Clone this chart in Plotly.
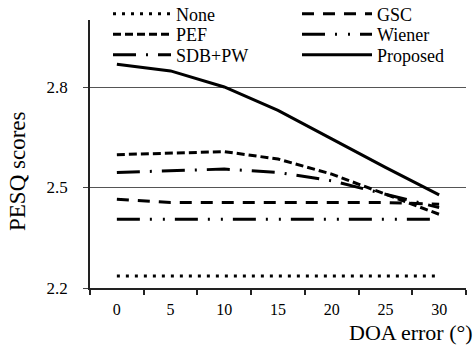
import plotly.graph_objects as go

doa = ["0", "5", "10", "15", "20", "25", "30"]
none_v = [2.236, 2.236, 2.236, 2.236, 2.236, 2.236, 2.236]
gsc_v = [2.465, 2.455, 2.455, 2.455, 2.455, 2.455, 2.45]
pef_v = [2.598, 2.603, 2.607, 2.585, 2.54, 2.48, 2.42]
wiener_v = [2.405, 2.405, 2.405, 2.405, 2.405, 2.405, 2.405]
sdb_v = [2.545, 2.55, 2.555, 2.545, 2.52, 2.48, 2.44]
prop_v = [2.868, 2.848, 2.80, 2.73, 2.645, 2.56, 2.478]

# name, values, dash, legend id
series = [
    ("None", none_v, "3px,6px", "legend"),
    ("PEF", pef_v, "8px,4px", "legend2"),
    ("SDB+PW", sdb_v, "23px,10px,2px,10px", "legend3"),
    ("GSC", gsc_v, "12px,9px", "legend4"),
    ("Wiener", wiener_v, "23px,10px,2px,11px,2px,10px", "legend5"),
    ("Proposed", prop_v, "solid", "legend6"),
]

fig = go.Figure()
for name, vals, dash, lg in series:
    fig.add_trace(go.Scatter(
        x=doa, y=vals, mode="lines", name=name, legend=lg,
        line=dict(color="black", width=3, dash=dash),
    ))

W, H = 476, 345
font = "Liberation Serif"
legfont = dict(family=font, size=18, color="black")

def leg(px_left, px_cy, iw):
    return dict(
        xref="container", yref="container",
        x=px_left / W, y=1 - px_cy / H, xanchor="left", yanchor="middle",
        font=legfont, bgcolor="rgba(0,0,0,0)", itemwidth=iw,
        borderwidth=0,
    )

fig.update_layout(
    width=W, height=H,
    margin=dict(l=90, r=10, t=20, b=57, autoexpand=False),
    paper_bgcolor="white", plot_bgcolor="white",
    font=dict(family=font, size=17, color="black"),
    showlegend=True,
    legend=leg(108, 14, 58),
    legend2=leg(108, 34.5, 58),
    legend3=leg(108, 55, 58),
    legend4=leg(297, 14, 70),
    legend5=leg(297, 34.5, 70),
    legend6=leg(297, 55, 70),
    xaxis=dict(
        type="category", range=[-0.5, 6.5], tickson="boundaries",
        showline=True, linecolor="#222222", linewidth=1.5,
        ticks="outside", ticklen=5, tickcolor="#222222", tickwidth=1.5,
        showgrid=False, zeroline=False, ticklabelstandoff=6,
        tickfont=dict(family=font, size=16, color="black"),
    ),
    yaxis=dict(
        range=[2.2, 3.0], tick0=2.2, dtick=0.3,
        showline=True, linecolor="#222222", linewidth=1.5,
        ticks="outside", ticklen=5, tickcolor="#444444", tickwidth=1,
        showgrid=True, gridcolor="#555555", gridwidth=1,
        zeroline=False, ticklabelstandoff=12,
        tickformat=".1f",
        tickfont=dict(family=font, size=17, color="black"),
    ),
    annotations=[
        dict(
            text="DOA error (°)", xref="paper", yref="paper", x=1.0, y=(288 - 332) / 268,
            xanchor="right", yanchor="middle", xshift=9, showarrow=False,
            font=dict(family=font, size=22, color="black"),
        ),
        dict(
            text="PESQ scores", xref="paper", yref="paper", x=(17 - 90) / 376, y=(288 - 171) / 268,
            xanchor="center", yanchor="middle", textangle=-90, showarrow=False,
            font=dict(family=font, size=23, color="black"),
        ),
    ],
)

fig.write_html(
    "out.html",
    config={"displayModeBar": False},
    post_script="document.body.style.margin='0';",
)
